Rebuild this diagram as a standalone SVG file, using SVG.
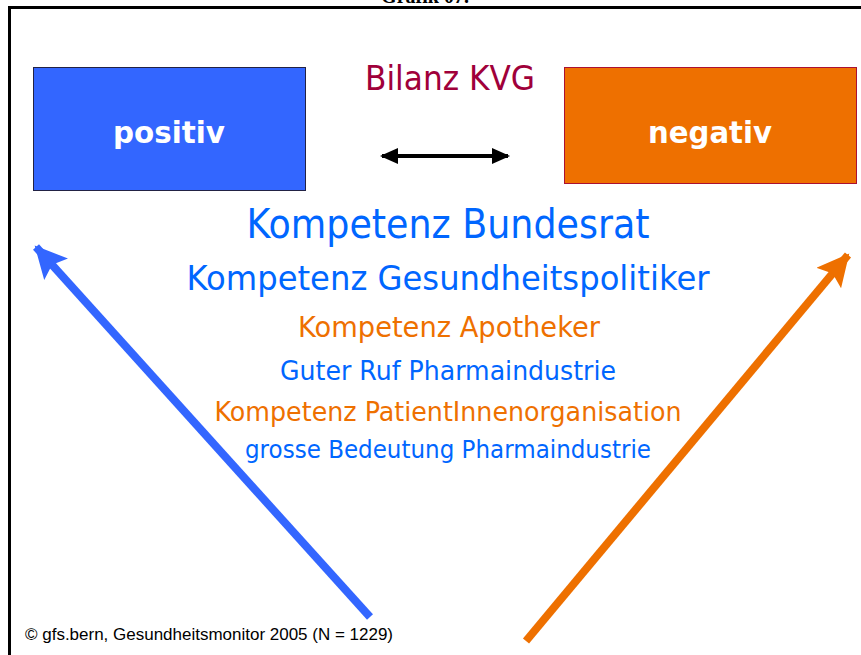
<svg xmlns="http://www.w3.org/2000/svg" width="861" height="655" viewBox="0 0 861 655">
  <style>
    text { font-family: "DejaVu Sans", "Liberation Sans", sans-serif; text-anchor: middle; }
    .box-label { fill: #ffffff; font-weight: bold; font-size: 30px; }
    .blue { fill: #0066FF; }
    .orange { fill: #EE7000; }
    .frame { stroke: #000000; stroke-width: 3; fill: none; }
  </style>
  <defs>
    <marker id="headBlue" markerUnits="userSpaceOnUse" markerWidth="34" markerHeight="32" refX="30" refY="16" orient="auto">
      <path d="M0,0 L32,16 L0,32 L6,16 Z" fill="#3366FF"/>
    </marker>
    <marker id="headOrange" markerUnits="userSpaceOnUse" markerWidth="34" markerHeight="32" refX="30" refY="16" orient="auto">
      <path d="M0,0 L32,16 L0,32 L6,16 Z" fill="#EE7000"/>
    </marker>
    <marker id="headBlack" markerUnits="userSpaceOnUse" markerWidth="18" markerHeight="16" refX="16" refY="8" orient="auto-start-reverse">
      <path d="M0,0 L18,8 L0,16 Z" fill="#000000"/>
    </marker>
  </defs>

  <!-- page frame and heading, clipped by the top edge -->
  <path class="frame" d="M9.5,655 L9.5,7.5 L861,7.5"/>
  <text x="425" y="3" style="font-family: 'Liberation Serif', serif; font-weight: bold; font-size: 20px; fill: #000;">Grafik 07.</text>

  <g id="positiv">
    <rect x="33.5" y="67.5" width="272" height="123" fill="#3366FF" stroke="#222244" stroke-width="1"/>
    <text class="box-label" x="169" y="143" textLength="112" lengthAdjust="spacingAndGlyphs">positiv</text>
  </g>

  <g id="negativ">
    <rect x="564.5" y="67.5" width="292" height="116" fill="#EE7000" stroke="#AA1133" stroke-width="1"/>
    <text class="box-label" x="710" y="143" textLength="124" lengthAdjust="spacingAndGlyphs">negativ</text>
  </g>

  <g id="title">
    <text x="450" y="90" style="font-size: 33px; fill: #A0003A;" textLength="170" lengthAdjust="spacingAndGlyphs">Bilanz KVG</text>
  </g>

  <g id="factors">
    <text class="blue" x="448" y="238" style="font-size: 41px;" textLength="403" lengthAdjust="spacingAndGlyphs">Kompetenz Bundesrat</text>
    <text class="blue" x="448" y="290" style="font-size: 34px;" textLength="523" lengthAdjust="spacingAndGlyphs">Kompetenz Gesundheitspolitiker</text>
    <text class="orange" x="449" y="337" style="font-size: 28px;" textLength="302" lengthAdjust="spacingAndGlyphs">Kompetenz Apotheker</text>
    <text class="blue" x="448" y="380" style="font-size: 26px;" textLength="336" lengthAdjust="spacingAndGlyphs">Guter Ruf Pharmaindustrie</text>
    <text class="orange" x="448" y="421" style="font-size: 26px;" textLength="467" lengthAdjust="spacingAndGlyphs">Kompetenz PatientInnenorganisation</text>
    <text class="blue" x="448" y="458" style="font-size: 24px;" textLength="406" lengthAdjust="spacingAndGlyphs">grosse Bedeutung Pharmaindustrie</text>
  </g>

  <g id="connectors">
    <line x1="382" y1="156" x2="508" y2="156" stroke="#000000" stroke-width="4" marker-start="url(#headBlack)" marker-end="url(#headBlack)"/>
    <line x1="370" y1="617" x2="36" y2="247" stroke="#3366FF" stroke-width="8" marker-end="url(#headBlue)"/>
    <line x1="526" y1="641" x2="848" y2="255" stroke="#EE7000" stroke-width="8" marker-end="url(#headOrange)"/>
  </g>

  <g id="footer">
    <text x="25" y="640" style="text-anchor: start; font-family: 'Liberation Sans', sans-serif; font-size: 16px; fill: #000;" textLength="368" lengthAdjust="spacingAndGlyphs">© gfs.bern, Gesundheitsmonitor 2005 (N = 1229)</text>
  </g>
</svg>
